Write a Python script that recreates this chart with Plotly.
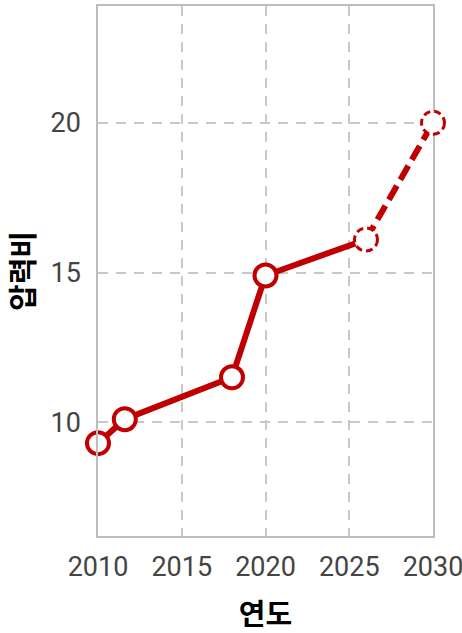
import plotly.graph_objects as go

# 연도별 압력비 (마지막 두 점은 전망치)
years = [2010, 2011.6, 2018, 2020, 2026, 2030]
ratio = [9.3, 10.1, 11.5, 14.9, 16.1, 20.0]
n_actual = 5  # 실선 구간: 처음 5개 점 (2026까지)
n_marker = 4  # 실선 원 마커: 처음 4개 점

x_range = [2010, 2030]
y_range = [6.2, 23.9]

red = "#C00000"
grid = "#C8C8C8"
frame = "#BDBDBD"
tick_font = dict(family="Liberation Sans Narrow, Roboto, Arial", size=27, color="#444444")
title_font = dict(family="Noto Sans CJK KR", size=29, color="black")

fig = go.Figure()

# 실선 구간
fig.add_trace(go.Scatter(
    x=years[:n_actual], y=ratio[:n_actual],
    mode="lines", line=dict(color=red, width=6),
    hoverinfo="skip", showlegend=False,
))
# 점선(전망) 구간
fig.add_trace(go.Scatter(
    x=years[n_actual - 1:], y=ratio[n_actual - 1:],
    mode="lines", line=dict(color=red, width=6, dash="16px,7px"),
    hoverinfo="skip", showlegend=False,
))
# 실측 마커
fig.add_trace(go.Scatter(
    x=years[:n_marker], y=ratio[:n_marker],
    mode="markers",
    marker=dict(size=22, color="white", line=dict(color=red, width=4)),
    cliponaxis=False, showlegend=False,
))

# 전망 마커: 점선 테두리 원 (축 경계에서 잘리지 않도록 paper 좌표로 변환)
for x, y in zip(years[n_marker:], ratio[n_marker:]):
    px = (x - x_range[0]) / (x_range[1] - x_range[0])
    py = (y - y_range[0]) / (y_range[1] - y_range[0])
    fig.add_shape(
        type="circle", xref="paper", yref="paper",
        xsizemode="pixel", ysizemode="pixel",
        xanchor=px, yanchor=py, x0=-11.5, x1=11.5, y0=-11.5, y1=11.5,
        fillcolor="white", line=dict(color=red, width=3, dash="7px,4px"),
        layer="above",
    )

fig.update_xaxes(
    range=x_range, tickvals=[2010, 2015, 2020, 2025, 2030],
    showgrid=True, gridcolor=grid, gridwidth=2, griddash="10px,8px",
    showline=True, mirror=True, linecolor=frame, linewidth=1.5,
    zeroline=False, ticks="", ticklabelstandoff=6, ticklabeloverflow="allow",
    tickfont=tick_font,
    title=dict(text="<b>연도</b>", font=title_font, standoff=30),
)
fig.update_yaxes(
    range=y_range, tickvals=[10, 15, 20],
    showgrid=True, gridcolor=grid, gridwidth=2, griddash="10px,8px",
    showline=True, mirror=True, linecolor=frame, linewidth=1.5,
    zeroline=False, ticks="", ticklabelstandoff=10, tickfont=tick_font,
    title=dict(text="<b>압력비</b>", font=title_font, standoff=30),
)

fig.update_layout(
    width=462, height=633,
    margin=dict(l=98, r=29, t=6, b=97, autoexpand=False),
    plot_bgcolor="white", paper_bgcolor="white",
)

fig.write_html(
    "out.html",
    config={"displayModeBar": False},
    post_script="document.body.style.margin='0';",
)
